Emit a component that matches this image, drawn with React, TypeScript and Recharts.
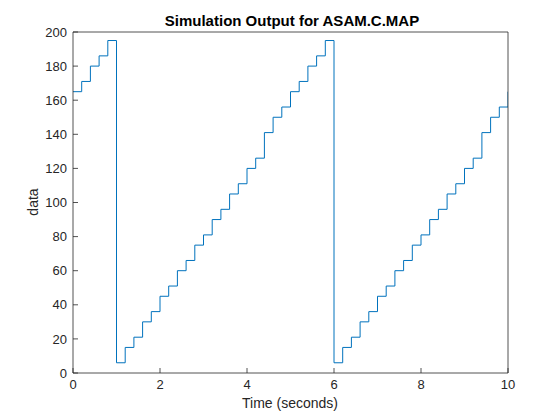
import * as React from 'react';
import { LineChart, Line, XAxis, YAxis, Label } from 'recharts';

// sample times (seconds)
const times = [
  0, 0.2, 0.4, 0.6, 0.8, 1, 1.2, 1.4, 1.6, 1.8,
  2, 2.2, 2.4, 2.6, 2.8, 3, 3.2, 3.4, 3.6, 3.8,
  4, 4.2, 4.4, 4.6, 4.8, 5, 5.2, 5.4, 5.6, 5.8,
  6, 6.2, 6.4, 6.6, 6.8, 7, 7.2, 7.4, 7.6, 7.8,
  8, 8.2, 8.4, 8.6, 8.8, 9, 9.2, 9.4, 9.6, 9.8,
  10
];

// ASAM.C.MAP output
const values = [
  165, 171, 180, 186, 195, 6, 15, 21, 30, 36,
  45, 51, 60, 66, 75, 81, 90, 96, 105, 111,
  120, 126, 141, 150, 156, 165, 171, 180, 186, 195,
  6, 15, 21, 30, 36, 45, 51, 60, 66, 75,
  81, 90, 96, 105, 111, 120, 126, 141, 150, 156,
  165
];

const xTicks = [0, 2, 4, 6, 8, 10];
const yTicks = [0, 20, 40, 60, 80, 100, 120, 140, 160, 180, 200];

const title = 'Simulation Output for ASAM.C.MAP';
const xLabel = 'Time (seconds)';
const yLabel = 'data';

const data = times.map((t, i) => ({ t, v: values[i] }));

const AXIS = '#262626';
const FONT = '"Liberation Sans", Arial, Helvetica, sans-serif';

export default function App() {
  const tickStyle = { fill: AXIS, fontSize: 13, fontFamily: FONT };
  return (
    <div style={{ position: 'absolute', left: 0, top: 0, width: 560, height: 420, background: '#fff' }}>
      <LineChart
        width={560}
        height={420}
        data={data}
        margin={{ top: 22, right: 42, bottom: 7, left: 13 }}
      >
        <XAxis
          xAxisId="b"
          dataKey="t"
          type="number"
          domain={[0, 10]}
          ticks={xTicks}
          allowDataOverflow
          height={40}
          tickSize={-5}
          tickMargin={12}
          stroke={AXIS}
          strokeWidth={0.8}
          tick={tickStyle}
          interval={0}
        >
          <Label
            content={() => (
              <text x={290} y={408} textAnchor="middle" fill={AXIS} fontSize={14} fontFamily={FONT}>
                {xLabel}
              </text>
            )}
          />
        </XAxis>
        <XAxis
          xAxisId="t"
          orientation="top"
          dataKey="t"
          type="number"
          domain={[0, 10]}
          ticks={xTicks}
          allowDataOverflow
          height={10}
          tickSize={-5}
          tick={false}
          stroke={AXIS}
          strokeWidth={0.8}
          interval={0}
        >
          <Label
            content={() => (
              <text x={292} y={26} textAnchor="middle" fill="#000" fontSize={15} fontWeight="bold" fontFamily={FONT}>
                {title}
              </text>
            )}
          />
        </XAxis>
        <YAxis
          yAxisId="l"
          type="number"
          domain={[0, 200]}
          ticks={yTicks}
          allowDataOverflow
          width={60}
          tickSize={-5}
          tickMargin={11}
          stroke={AXIS}
          strokeWidth={0.8}
          tick={tickStyle}
          interval={0}
        >
          <Label
            content={() => (
              <text
                x={38}
                y={202}
                transform="rotate(-90, 38, 202)"
                textAnchor="middle"
                fill={AXIS}
                fontSize={14}
                fontFamily={FONT}
              >
                {yLabel}
              </text>
            )}
          />
        </YAxis>
        <YAxis
          yAxisId="r"
          orientation="right"
          type="number"
          domain={[0, 200]}
          ticks={yTicks}
          allowDataOverflow
          width={10}
          tickSize={-5}
          tick={false}
          stroke={AXIS}
          strokeWidth={0.8}
          interval={0}
        />
        <Line
          xAxisId="b"
          yAxisId="l"
          type="stepAfter"
          dataKey="v"
          stroke="#0072BD"
          strokeWidth={1}
          dot={false}
          activeDot={false}
          isAnimationActive={false}
        />
      </LineChart>
    </div>
  );
}
